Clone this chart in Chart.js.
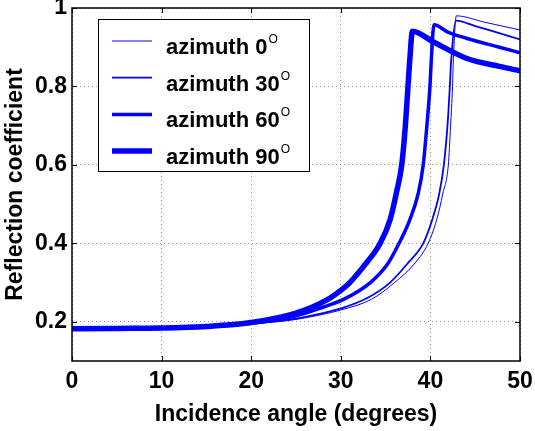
<!DOCTYPE html>
<html>
<head>
<meta charset="utf-8">
<script src="https://cdn.jsdelivr.net/npm/chart.js@4.4.0/dist/chart.umd.min.js"></script>
<style>
  html, body { margin: 0; padding: 0; background: #fff; }
  #wrap { width: 535px; height: 431px; }
</style>
</head>
<body>
<div id="wrap"><canvas id="chart"></canvas></div>
<script>
// Valeurs (angle en degrés -> coefficient de réflexion)
const angles0  = [0, 5, 10, 15, 20, 25, 28, 30, 33.4, 36, 38.3, 39.75, 40.7, 41.4, 42, 42.25, 42.47, 42.55, 42.9, 46, 50];
const refl0    = [0.182, 0.183, 0.184, 0.186, 0.194, 0.206, 0.219, 0.23, 0.257, 0.3, 0.35, 0.4, 0.46, 0.528, 0.6, 0.698, 0.8, 0.86, 0.98, 0.964, 0.944];

const angles30 = [0, 5, 10, 15, 20, 25, 28, 30, 32.9, 35.5, 37.5, 39.2, 40.2, 41, 41.5, 41.9, 42.17, 42.3, 42.85, 45, 47.5, 50];
const refl30   = [0.182, 0.183, 0.184, 0.186, 0.195, 0.208, 0.222, 0.234, 0.26, 0.3, 0.35, 0.4, 0.46, 0.528, 0.6, 0.698, 0.8, 0.86, 0.968, 0.954, 0.937, 0.92];

const angles60 = [0, 5, 10, 15, 20, 25, 28, 30.3, 33.3, 35.3, 36.5, 37.7, 38.65, 39.2, 39.6, 39.95, 40.1, 40.4, 42, 44, 47.7, 50];
const refl60   = [0.182, 0.183, 0.184, 0.187, 0.196, 0.215, 0.237, 0.257, 0.3, 0.35, 0.4, 0.46, 0.528, 0.6, 0.698, 0.8, 0.868, 0.957, 0.938, 0.923, 0.9, 0.886];

const angles90 = [0, 5, 10, 15, 20, 25, 28.4, 30, 31, 32.5, 34.4, 35.5, 36.2, 36.8, 37.2, 37.5, 37.7, 38, 40.3, 44, 47.7, 50];
const refl90   = [0.182, 0.183, 0.184, 0.188, 0.198, 0.222, 0.255, 0.28, 0.3, 0.34, 0.4, 0.46, 0.528, 0.6, 0.698, 0.8, 0.868, 0.941, 0.914, 0.872, 0.851, 0.84];

const seriesNames = ['azimuth 0', 'azimuth 30', 'azimuth 60', 'azimuth 90'];
const xTicks = [0, 10, 20, 30, 40, 50];
const yTicks = [0.2, 0.4, 0.6, 0.8, 1];

const bleu = '#0000ff';
const police = '"Liberation Sans", Arial, sans-serif';
const epaisseurs = [1, 1.8, 3.5, 5.5];

function points(xs, ys) {
    return xs.map((x, i) => ({ x: x, y: ys[i] }));
}

const series = [
    points(angles0, refl0),
    points(angles30, refl30),
    points(angles60, refl60),
    points(angles90, refl90)
];

// pas de marge automatique pour les étiquettes qui débordent
function sansMarge(s) {
    s.paddingLeft = 0;
    s.paddingRight = 0;
    s.paddingTop = 0;
    s.paddingBottom = 0;
}

// Cadre, graduations vers l'intérieur et légende façon MATLAB
const cadreMatlab = {
    id: 'cadreMatlab',
    afterDatasetsDraw(chart) {
        const { ctx, chartArea: a, scales: { x, y } } = chart;
        ctx.save();
        ctx.strokeStyle = '#000';
        ctx.lineWidth = 1;
        ctx.beginPath();
        xTicks.forEach(v => {
            const px = Math.round(x.getPixelForValue(v)) + 0.5;
            ctx.moveTo(px, a.bottom); ctx.lineTo(px, a.bottom - 5);
            ctx.moveTo(px, a.top); ctx.lineTo(px, a.top + 5);
        });
        yTicks.forEach(v => {
            const py = Math.round(y.getPixelForValue(v)) + 0.5;
            ctx.moveTo(a.left, py); ctx.lineTo(a.left + 5, py);
            ctx.moveTo(a.right, py); ctx.lineTo(a.right - 5, py);
        });
        ctx.stroke();
        ctx.lineWidth = 1.5;
        ctx.strokeRect(a.left, a.top, a.right - a.left, a.bottom - a.top);

        // légende
        const bx = 98.5, by = 19.5, bw = 211, bh = 152;
        ctx.fillStyle = '#fff';
        ctx.fillRect(bx, by, bw, bh);
        ctx.lineWidth = 1;
        ctx.strokeStyle = '#000';
        ctx.strokeRect(bx, by, bw, bh);
        seriesNames.forEach((nom, i) => {
            const ly = 41 + i * 36.7;
            ctx.beginPath();
            ctx.strokeStyle = bleu;
            ctx.lineWidth = epaisseurs[i];
            ctx.moveTo(112, ly);
            ctx.lineTo(152, ly);
            ctx.stroke();
            ctx.fillStyle = '#000';
            ctx.textBaseline = 'alphabetic';
            ctx.textAlign = 'left';
            ctx.font = 'bold 22px ' + police;
            ctx.fillText(nom, 166, ly + 13);
            const w = ctx.measureText(nom).width;
            ctx.font = '12px ' + police;
            ctx.fillText('O', 166 + w + 1, ly + 2);
        });
        ctx.restore();
    }
};

const ctx = document.getElementById('chart');

new Chart(ctx, {
    type: 'scatter',
    data: {
        datasets: series.map((d, i) => ({
            label: seriesNames[i],
            data: d,
            showLine: true,
            borderColor: bleu,
            backgroundColor: bleu,
            borderWidth: epaisseurs[i],
            pointRadius: 0,
            cubicInterpolationMode: 'monotone',
            order: 3 - i
        }))
    },
    options: {
        responsive: true,
        maintainAspectRatio: false,
        animation: false,
        layout: { padding: { top: 8, right: 15, left: 0, bottom: 0 } },
        plugins: {
            legend: { display: false },
            tooltip: { enabled: false }
        },
        scales: {
            x: {
                type: 'linear',
                min: 0,
                max: 50,
                afterBuildTicks: s => { s.ticks = xTicks.map(v => ({ value: v })); },
                afterFit: s => { s.height = 70; sansMarge(s); },
                grid: { color: '#999', drawTicks: false },
                border: { display: false, dash: [1, 3] },
                ticks: {
                    color: '#000',
                    padding: 7,
                    maxRotation: 0,
                    font: { family: police, size: 23, weight: 'bold' }
                },
                title: {
                    display: true,
                    text: 'Incidence angle (degrees)',
                    color: '#000',
                    padding: { top: 0, bottom: 3 },
                    font: { family: police, size: 23, weight: 'bold' }
                }
            },
            y: {
                type: 'linear',
                min: 0.1,
                max: 1,
                afterBuildTicks: s => { s.ticks = yTicks.map(v => ({ value: v })); },
                afterFit: s => { s.width = 72; sansMarge(s); },
                grid: { color: '#999', drawTicks: false },
                border: { display: false, dash: [1, 3] },
                ticks: {
                    color: '#000',
                    padding: 5,
                    callback: v => (v === 1 ? '1' : v.toFixed(1)),
                    font: { family: police, size: 23, weight: 'bold' }
                },
                title: {
                    display: true,
                    text: 'Reflection coefficient',
                    color: '#000',
                    padding: { top: 2, bottom: 0 },
                    font: { family: police, size: 23, weight: 'bold' }
                }
            }
        }
    },
    plugins: [cadreMatlab]
});
</script>
</body>
</html>
